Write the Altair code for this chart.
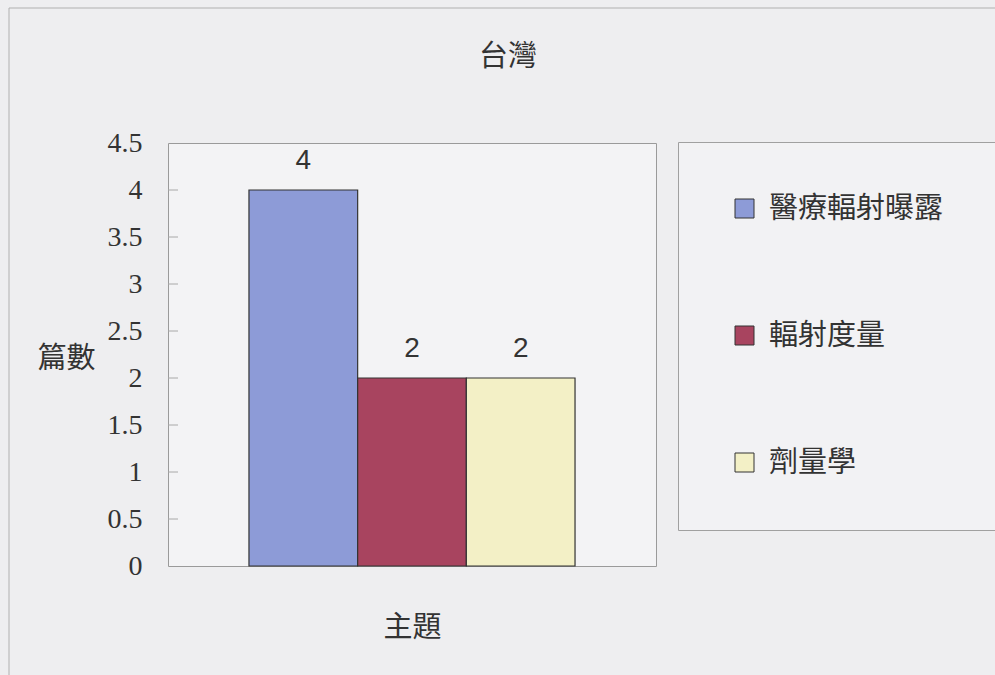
import altair as alt
import pandas as pd

# Data
series = ["醫療輻射曝露", "輻射度量", "劑量學"]
counts = [4, 2, 2]
colors = ["#8d9bd7", "#a8445f", "#f3f0c6"]
y_ticks = [0, 0.5, 1, 1.5, 2, 2.5, 3, 3.5, 4, 4.5]
inner_ticks = [0.5, 1, 1.5, 2, 2.5, 3, 3.5, 4]

df = pd.DataFrame({"主題": series, "篇數": counts})
tick_df = pd.DataFrame({"t": inner_ticks})

CJK = "Noto Sans CJK TC"
NUM = "Liberation Serif, Noto Sans CJK TC"
TXT = "#333333"

xscale = alt.Scale(domain=series, paddingInner=0, paddingOuter=0.745)
yscale = alt.Scale(domain=[0, 4.5], nice=False)

frame = alt.Chart(pd.DataFrame({"a": [0]})).mark_rect(
    fill="transparent", stroke="#b0b0b0", strokeWidth=1
).encode(
    x=alt.value(-159), x2=alt.value(900), y=alt.value(-135), y2=alt.value(600)
)

bars = alt.Chart(df).mark_bar(stroke="#333333", strokeWidth=1.2).encode(
    x=alt.X("主題:N", scale=xscale, sort=series,
            axis=alt.Axis(labels=False, ticks=False, domain=False, title="主題",
                          titleFont=CJK, titleFontSize=29, titleFontWeight="normal",
                          titleColor=TXT, titleY=61, titleBaseline="middle")),
    y=alt.Y("篇數:Q", scale=yscale,
            axis=alt.Axis(values=y_ticks, format="~g", domain=False, ticks=False,
                          grid=False, labelFont=NUM, labelFontSize=28,
                          labelColor=TXT, labelPadding=26,
                          title="篇數", titleAngle=0, titleX=-102, titleY=215,
                          titleAlign="center", titleBaseline="middle",
                          titleFont=CJK, titleFontSize=29, titleFontWeight="normal",
                          titleColor=TXT)),
    color=alt.Color("主題:N", sort=series,
                    scale=alt.Scale(domain=series, range=colors),
                    legend=alt.Legend(title=None, orient="none", legendX=510, legendY=-1,
                                      direction="vertical",
                                      symbolType="square", symbolSize=361,
                                      symbolStrokeColor="#333333", symbolStrokeWidth=1,
                                      labelFont=CJK, labelFontSize=29, labelColor=TXT,
                                      labelLimit=500,
                                      labelOffset=10, rowPadding=97, padding=52,
                                      strokeColor="#a0a0a0", fillColor="#f2f2f4")),
)

labels = alt.Chart(df).mark_text(
    font="Liberation Sans", fontSize=28, color=TXT, baseline="middle", dy=-29
).encode(
    x=alt.X("主題:N", scale=xscale, sort=series),
    y=alt.Y("篇數:Q", scale=yscale),
    text=alt.Text("篇數:Q", format="~g"),
)

ticks = alt.Chart(tick_df).mark_rule(color="#a8a8a8", strokeWidth=1).encode(
    y=alt.Y("t:Q", scale=yscale),
    x=alt.value(0), x2=alt.value(10),
)

chart = alt.layer(frame, bars, ticks, labels).properties(
    width=488, height=423,
    padding={"left": 168, "top": 143, "right": 339, "bottom": 109},
    autosize=alt.AutoSizeParams(type="none"),
    background="#eeeef0",
    title=alt.TitleParams(text="台灣", font=CJK, fontSize=29, fontWeight="normal",
                          color=TXT, anchor="middle", dx=96, baseline="bottom",
                          offset=-93),
).configure_view(stroke="#9a9a9a", strokeWidth=1, fill="#f3f3f5")

chart.save("out.html", embed_options={"renderer": "svg", "actions": False})
